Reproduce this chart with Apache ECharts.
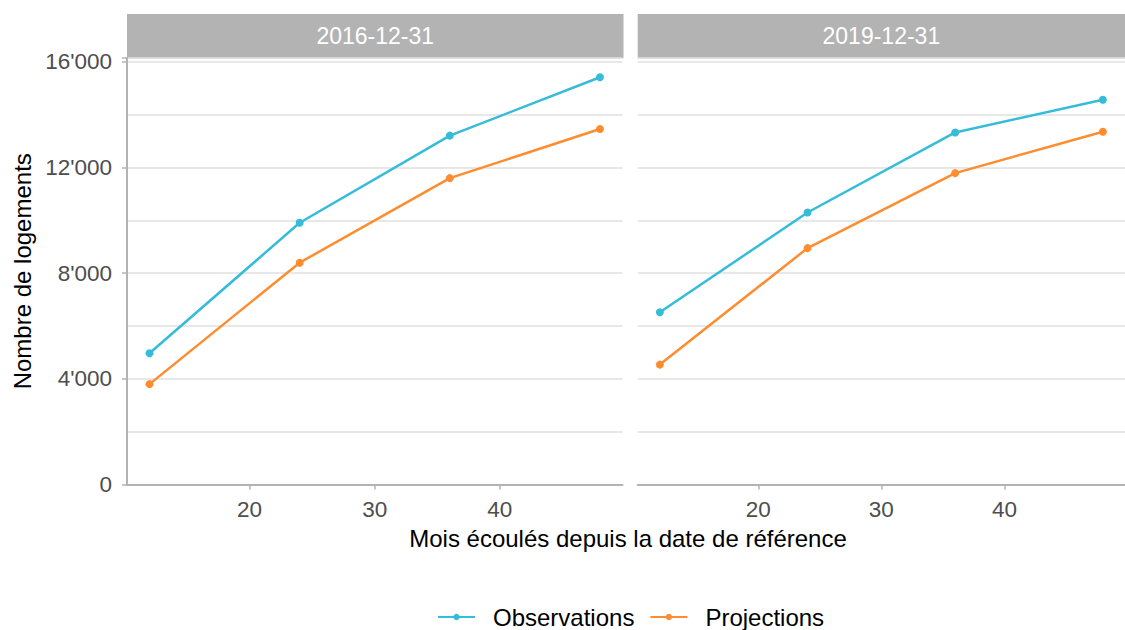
<!DOCTYPE html>
<html>
<head>
<meta charset="utf-8">
<script src="https://cdn.jsdelivr.net/npm/echarts@6/dist/echarts.min.js"></script>
<style>html,body{margin:0;padding:0;background:#fff}#c{width:1125px;height:630px}</style>
</head>
<body>
<div id="c"></div>
<script>
const months = [12, 24, 36, 48];
const panels = ['2016-12-31', '2019-12-31'];
const obs2016 = [4970, 9910, 13210, 15420];
const proj2016 = [3800, 8400, 11600, 13460];
const obs2019 = [6520, 10300, 13330, 14570];
const proj2019 = [4540, 8950, 11790, 13360];
const seriesNames = ['Observations', 'Projections'];
const yTicks = [0, 4000, 8000, 12000, 16000];
const xTicks = [20, 30, 40];

const C_OBS = '#35BCD8', C_PROJ = '#FF8C2E';
const FONT = 'Liberation Sans, Arial, sans-serif';
const fmt = v => String(v).replace(/\B(?=(\d{3})+(?!\d))/g, "'");

const chart = echarts.init(document.getElementById('c'), null, {renderer: 'svg'});

const grids = [
  {left: 127, width: 495.5, top: 58, bottom: 145.5},
  {left: 637.7, width: 493.5, top: 58, bottom: 145.5}
];

function xAxis(i) {
  return {
    type: 'value', gridIndex: i, min: 10.2, max: 49.8,
    axisLine: {show: true, lineStyle: {color: '#b3b3b3', width: 2}},
    axisTick: {show: true, length: 5, customValues: xTicks, lineStyle: {color: '#b3b3b3', width: 1.5}},
    axisLabel: {
      color: '#4d4d4d', fontSize: 22.5, fontFamily: FONT, margin: 13,
      customValues: xTicks,
      formatter: v => String(v)
    },
    splitLine: {show: false}
  };
}
function yAxis(i) {
  return {
    type: 'value', gridIndex: i, min: 0, max: 16150, interval: 4000,
    axisLine: {show: i === 0, lineStyle: {color: '#b3b3b3', width: 2}},
    axisTick: {show: i === 0, length: 5, lineStyle: {color: '#b3b3b3', width: 1.5}},
    axisLabel: {
      show: i === 0, color: '#4d4d4d', fontSize: 22.5, fontFamily: FONT, margin: 15,
      showMaxLabel: true,
      formatter: v => yTicks.includes(v) ? fmt(v) : ''
    },
    splitLine: {show: true, lineStyle: {color: '#e0e0e0', width: 1.5}},
    minorTick: {show: false, splitNumber: 2},
    minorSplitLine: {show: true, lineStyle: {color: '#e0e0e0', width: 1.5}},
    name: i === 0 ? 'Nombre de logements' : '',
    nameLocation: 'middle', nameGap: 93, nameRotate: 90,
    nameTextStyle: {color: '#000', fontSize: 24, fontFamily: FONT}
  };
}

function mk(name, data, color, i) {
  return {
    name, type: 'line', xAxisIndex: i, yAxisIndex: i,
    data: months.map((m, k) => [m, data[k]]),
    symbol: 'circle', symbolSize: 8, showSymbol: true,
    lineStyle: {color, width: 2.5}, itemStyle: {color},
    emphasis: {disabled: true}, animation: false
  };
}

const stripGraphics = [];
grids.forEach((g, i) => {
  const x0 = i === 0 ? 127 : 637.7;
  const x1 = i === 0 ? 623.5 : 1125;
  stripGraphics.push({
    type: 'rect', shape: {x: x0, y: 14, width: x1 - x0, height: 44.3},
    style: {fill: '#b3b3b3'}, silent: true
  });
  stripGraphics.push({
    type: 'text', x: (x0 + x1) / 2, y: 36,
    style: {text: panels[i], fill: '#ffffff', fontSize: 23, fontFamily: FONT,
            textAlign: 'center', textVerticalAlign: 'middle'}, silent: true
  });
});
stripGraphics.push({
  type: 'text', x: 628, y: 538,
  style: {text: 'Mois écoulés depuis la date de référence', fill: '#000', fontSize: 24,
          fontFamily: FONT, textAlign: 'center', textVerticalAlign: 'middle'}, silent: true
});

chart.setOption({
  animation: false,
  backgroundColor: '#ffffff',
  grid: grids,
  xAxis: [xAxis(0), xAxis(1)],
  yAxis: [yAxis(0), yAxis(1)],
  legend: {
    data: seriesNames, left: 432, top: 600,
    itemWidth: 37, itemHeight: 8, itemGap: 15,
    textStyle: {color: '#000', fontSize: 24, fontFamily: FONT, padding: [0, 0, 0, 13]}
  },
  series: [
    mk(seriesNames[0], obs2016, C_OBS, 0),
    mk(seriesNames[1], proj2016, C_PROJ, 0),
    mk(seriesNames[0], obs2019, C_OBS, 1),
    mk(seriesNames[1], proj2019, C_PROJ, 1)
  ],
  graphic: stripGraphics
});
</script>
</body>
</html>
